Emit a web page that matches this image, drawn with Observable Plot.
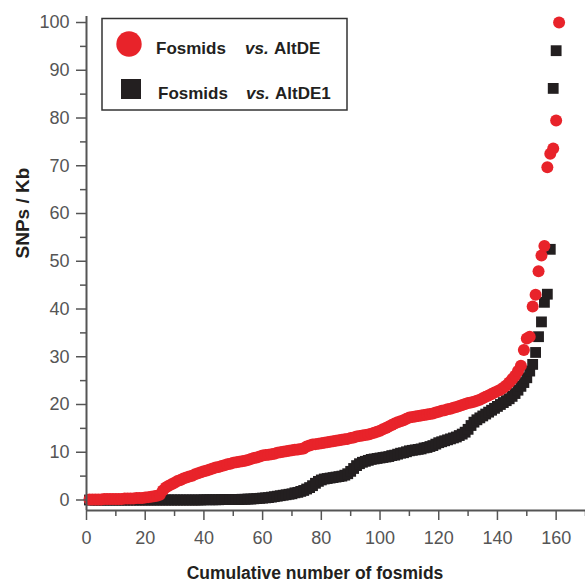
<!DOCTYPE html>
<html>
<head>
<meta charset="utf-8">
<script src="https://cdn.jsdelivr.net/npm/d3@7"></script>
<script src="https://cdn.jsdelivr.net/npm/@observablehq/plot@0.6"></script>
<style>
  body { margin: 0; background: #fff; }
  #wrap { width: 585px; height: 583px; }
</style>
</head>
<body>
<div id="wrap"></div>
<script>
// SNPs / Kb, fosmids sorted (cumulative index 1..n)
const altDE = [
  0.1,0.1,0.1,0.1,0.1,0.2,0.2,0.2,0.2,0.2,
  0.2,0.2,0.3,0.3,0.3,0.3,0.4,0.4,0.4,0.5,
  0.6,0.7,0.8,0.9,1.1,2.0,2.6,3.0,3.3,3.6,
  4.0,4.2,4.5,4.7,4.9,5.1,5.4,5.6,5.8,6.0,
  6.2,6.4,6.6,6.8,6.9,7.1,7.3,7.5,7.6,7.8,
  7.9,8.0,8.1,8.2,8.4,8.6,8.8,8.9,9.1,9.3,
  9.4,9.5,9.6,9.7,9.9,10.0,10.1,10.2,10.3,10.4,
  10.5,10.6,10.7,10.8,11.2,11.4,11.6,11.7,11.8,11.9,
  12.0,12.1,12.2,12.3,12.4,12.5,12.6,12.7,12.8,13.0,
  13.1,13.3,13.4,13.5,13.6,13.7,13.9,14.1,14.3,14.5,
  14.8,15.1,15.4,15.7,16.0,16.3,16.5,16.7,17.0,17.3,
  17.4,17.5,17.6,17.7,17.8,17.9,18.0,18.1,18.3,18.5,
  18.7,18.8,19.0,19.1,19.3,19.5,19.7,19.9,20.1,20.3,
  20.4,20.6,20.8,21.0,21.3,21.6,21.9,22.2,22.5,22.8,
  23.1,23.5,24.0,24.6,25.3,26.0,27.0,
  28.1,31.4,33.8,34.2,40.5,43.0,47.9,51.2,53.2,69.7,72.5,73.6,79.5,100
];
const altDE1 = [
  0,0,0,0,0,0,0,0,0,0,
  0,0,0,0,0,0,0,0,0,0,
  0,0,0,0,0,0,0,0,0,0,
  0,0,0,0,0,0,0,0,0,0.05,
  0.05,0.05,0.05,0.05,0.05,0.1,0.1,0.1,0.1,0.1,
  0.1,0.1,0.15,0.15,0.2,0.2,0.25,0.3,0.35,0.4,
  0.45,0.5,0.6,0.7,0.8,0.9,1.0,1.1,1.2,1.3,
  1.5,1.6,1.8,2.0,2.3,2.6,3.0,3.5,3.9,4.2,
  4.4,4.5,4.6,4.7,4.8,4.9,5.0,5.2,5.5,6.0,
  6.6,7.2,7.6,7.9,8.1,8.3,8.5,8.6,8.7,8.8,
  8.9,9.0,9.1,9.3,9.4,9.6,9.8,9.9,10.1,10.3,
  10.4,10.5,10.6,10.7,10.9,11.0,11.2,11.4,11.7,12.0,
  12.2,12.4,12.6,12.8,13.0,13.2,13.5,13.8,14.2,14.8,
  15.6,16.3,16.8,17.2,17.6,18.0,18.4,18.8,19.2,19.6,
  20.0,20.4,20.8,21.2,21.7,22.3,23.0,23.8,24.6,25.6,
  27.0,28.4,30.9,34.2,37.3,41.4,43.1,52.5,86.2,94.1
];
const seriesNames = ["AltDE", "AltDE1"];
const xMajor = [0,20,40,60,80,100,120,140,160];
const xMinor = [10,30,50,70,90,110,130,150,170];
const yMajor = [0,10,20,30,40,50,60,70,80,90,100];
const yMinor = [5,15,25,35,45,55,65,75,85,95];
const xDomain = [0, 170];
const yDomain = [-2.2, 101.26];
const xTitle = "Cumulative number of fosmids";
const yTitle = "SNPs / Kb";

const redData = altDE.map((v, i) => ({x: i + 1, y: v}));
const blackData = altDE1.map((v, i) => ({x: i + 1, y: v}));

const RED = "#e8232a", BLACK = "#231f20", AXIS = "#555555";
const FONT = "Liberation Sans, Arial, Helvetica, sans-serif";

const svg = Plot.plot({
  width: 585,
  height: 583,
  marginLeft: 86,
  marginRight: 0,
  marginTop: 16,
  marginBottom: 73,
  x: {domain: xDomain},
  y: {domain: yDomain},
  style: {fontFamily: FONT, background: "white", overflow: "visible"},
  marks: [
    Plot.dot(blackData, {x: "x", y: "y", symbol: "square", r: 6.1, fill: BLACK, stroke: "none"}),
    Plot.dot(redData, {x: "x", y: "y", symbol: "circle", r: 6, fill: RED, stroke: "none"}),
    Plot.ruleX([xDomain[0]], {stroke: AXIS, strokeWidth: 2}),
    Plot.ruleY([yDomain[0]], {stroke: AXIS, strokeWidth: 2}),
    Plot.axisX(xMinor, {tickSize: 6, tickFormat: () => "", stroke: AXIS, strokeWidth: 1.5, label: null}),
    Plot.axisX(xMajor, {tickSize: 10, tickPadding: 11, fontSize: 18, fill: AXIS, stroke: AXIS, strokeWidth: 1.5, label: null}),
    Plot.axisY(yMinor, {tickSize: 6, tickFormat: () => "", stroke: AXIS, strokeWidth: 1.5, label: null}),
    Plot.axisY(yMajor, {tickSize: 10, tickPadding: 7, fontSize: 18, fill: AXIS, stroke: AXIS, strokeWidth: 1.5, label: null}),
    Plot.text([xTitle], {frameAnchor: "bottom", lineAnchor: "middle", dy: 63, dx: -21, fontSize: 17.5, fontWeight: "bold", fill: BLACK}),
    Plot.text([yTitle], {frameAnchor: "left", rotate: -90, lineAnchor: "middle", dx: -64, dy: -5, fontSize: 19, fontWeight: "bold", fill: BLACK})
  ]
});

// Legend (inside the plot area, top-left)
const g = d3.select(svg).append("g").attr("font-family", FONT).attr("text-anchor", "start");
g.append("rect").attr("x", 102).attr("y", 18.5).attr("width", 245).attr("height", 91.5)
  .attr("fill", "white").attr("stroke", "#333").attr("stroke-width", 1.5);
g.append("circle").attr("cx", 129).attr("cy", 44).attr("r", 12.7).attr("fill", RED);
g.append("rect").attr("x", 121).attr("y", 79).attr("width", 20).attr("height", 20).attr("fill", BLACK);
const rows = [{name: seriesNames[0], y: 54, x0: 156, x1: 245, x2: 274},
              {name: seriesNames[1], y: 99, x0: 158, x1: 246, x2: 275}];
rows.forEach(r => {
  const t = g.append("text").attr("y", r.y).attr("text-anchor", "start")
    .attr("font-size", 17).attr("font-weight", "bold").attr("fill", BLACK);
  t.append("tspan").attr("x", r.x0).text("Fosmids");
  t.append("tspan").attr("x", r.x1).attr("font-style", "italic").text("vs.");
  t.append("tspan").attr("x", r.x2).text(r.name);
});

document.getElementById("wrap").appendChild(svg);
</script>
</body>
</html>
